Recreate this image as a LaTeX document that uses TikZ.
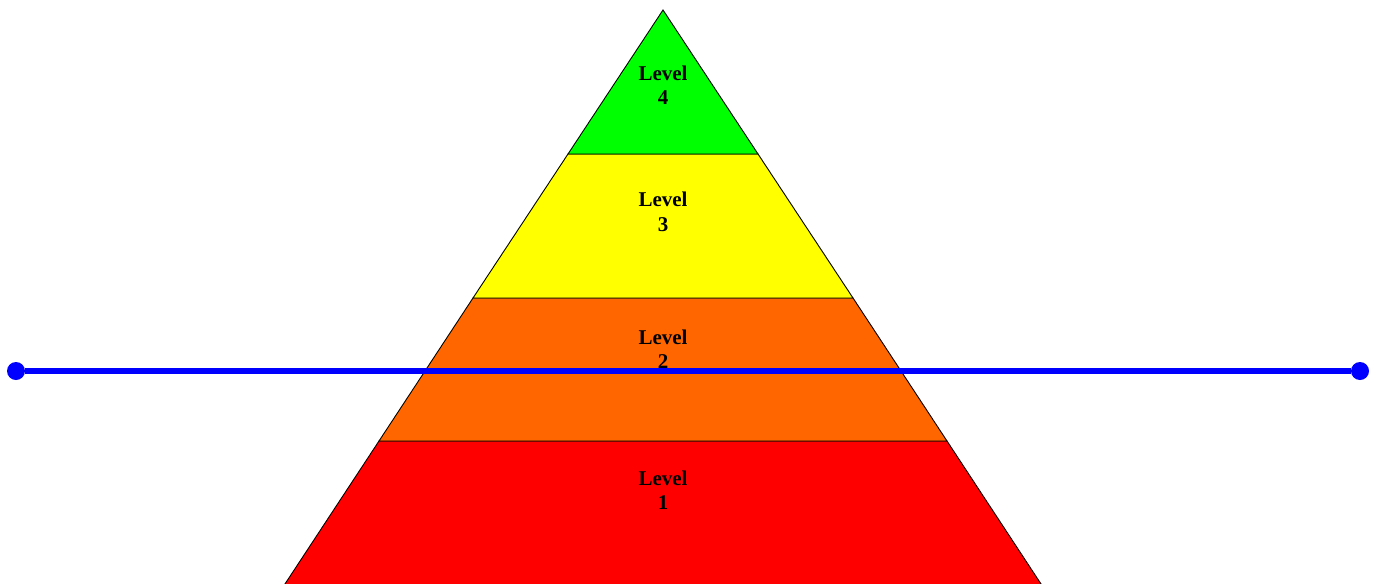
\documentclass[tikz,border=0pt]{standalone}
\usepackage{fontspec}
\setmainfont{Liberation Serif}
\usetikzlibrary{positioning}
\definecolor{lvlgreen}{RGB}{0,255,0}
\definecolor{lvlyellow}{RGB}{255,255,0}
\definecolor{lvlorange}{RGB}{255,102,0}
\definecolor{lvlred}{RGB}{255,0,0}

\begin{document}
\begin{tikzpicture}[x=1pt, y=-1pt,
    band/.style={draw=black, line width=0.9pt},
    lvl/.style={font=\fontsize{21}{24.5}\selectfont\bfseries, align=center},
    dot/.style={circle, fill=blue, inner sep=0pt, minimum size=18pt}]
    \useasboundingbox (0,0) rectangle (1377,584);

    % Pyramid bands
    \filldraw[band, fill=lvlred] (281,590) -- (379,441) -- (947,441) -- (1045,590) -- cycle;
    \filldraw[band, fill=lvlorange] (379,441) -- (473,298) -- (853,298) -- (947,441) -- cycle;
    \filldraw[band, fill=lvlyellow] (473,298) -- (568,154) -- (758,154) -- (853,298) -- cycle;
    \filldraw[band, fill=lvlgreen] (568,154) -- (663,10) -- (758,154) -- cycle;

    % Labels
    \node[lvl] (l4) at (663,85) {Level\\4};
    \node[lvl] (l3) at (663,212) {Level\\3};
    \node[lvl] (l2) at (663,349) {Level\\2};
    \node[lvl] (l1) at (663,490) {Level\\1};

    % Blue line
    \node[dot] (west) at (16,371) {};
    \node[dot] (east) at (1360,371) {};
    \draw[blue, line width=6pt] (west) -- (east);
\end{tikzpicture}
\end{document}
